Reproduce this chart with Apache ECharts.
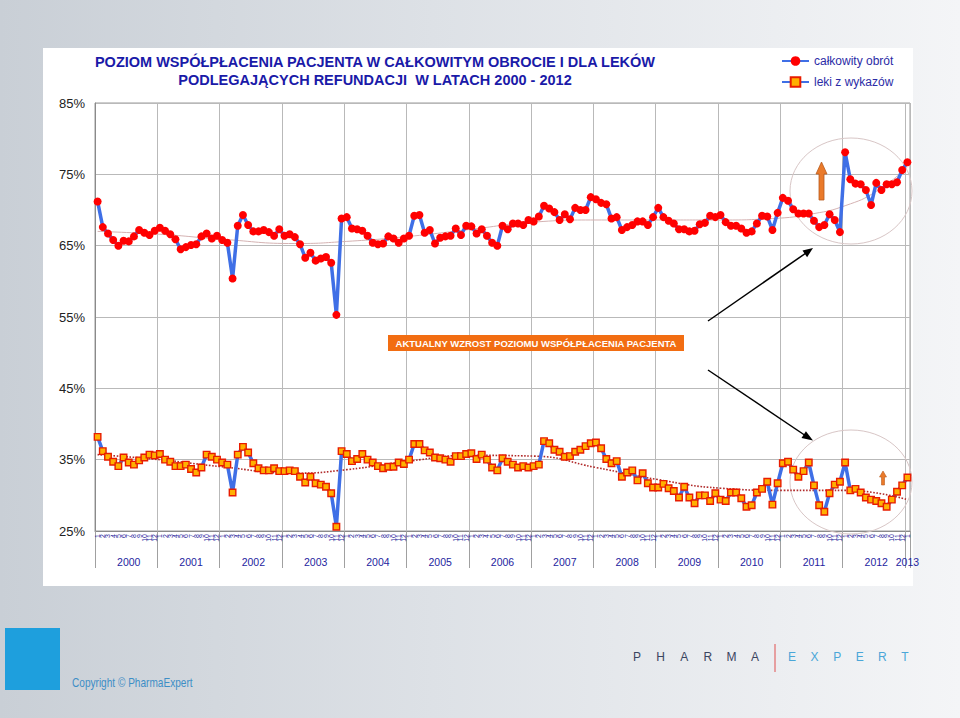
<!DOCTYPE html>
<html><head><meta charset="utf-8">
<script src="https://cdn.jsdelivr.net/npm/echarts@6/dist/echarts.min.js"></script>
<style>
html,body{margin:0;padding:0;width:960px;height:718px;overflow:hidden;}
body{background:linear-gradient(to right,#c9cfd6 0%,#dde1e6 45%,#f4f5f7 100%);position:relative;}
#panel{position:absolute;left:43px;top:48px;width:870px;height:538px;background:#fff;}
#chart{position:absolute;left:0;top:0;width:960px;height:718px;}
</style></head>
<body><div id="panel"></div><div id="chart"></div>
<script>
// ---- data ----
const monthLabels = ['1','2','3','4','5','6','7','8','9','10','11','12'];
const yearLabels = ['2000','2001','2002','2003','2004','2005','2006','2007','2008','2009','2010','2011','2012','2013'];
const seriesNames = ['całkowity obrót','leki z wykazów'];
// całkowity obrót (Jan 2000 - Jan 2013), %
const totalTurnover = [
 71.2,67.6,66.7,65.8,65.0,65.7,65.6,66.3,67.2,66.8,66.5,67.1,
 67.5,67.1,66.6,65.9,64.5,64.8,65.1,65.2,66.3,66.7,66.0,66.4,
 65.8,65.4,60.4,67.8,69.3,67.9,67.0,67.0,67.2,66.9,66.4,67.3,
 66.4,66.6,66.2,65.2,63.3,64.0,62.9,63.2,63.4,62.6,55.3,68.8,
 69.0,67.4,67.3,67.1,66.4,65.4,65.2,65.3,66.3,66.0,65.4,66.0,
 66.4,69.2,69.3,66.8,67.2,65.3,66.1,66.3,66.4,67.4,66.5,67.8,
 67.7,66.7,67.3,66.4,65.4,65.0,67.8,67.3,68.1,68.1,67.9,68.6,
 68.4,69.1,70.6,70.2,69.7,68.6,69.4,68.7,70.3,70.0,70.0,71.8,
 71.5,71.0,70.8,68.8,69.0,67.2,67.6,67.9,68.4,68.4,67.9,69.0,
 70.3,69.0,68.5,68.1,67.3,67.3,67.0,67.1,68.0,68.2,69.2,69.0,
 69.3,68.3,67.8,67.8,67.4,66.8,67.0,68.1,69.2,69.1,67.2,69.6,
 71.7,71.3,70.1,69.5,69.5,69.5,68.5,67.6,67.9,69.4,68.6,66.9,
 78.1,74.3,73.7,73.6,72.8,70.7,73.8,72.8,73.6,73.6,73.9,75.6,
 76.7
];
// leki z wykazów, %
const listedDrugs = [
 38.2,36.2,35.4,34.7,34.1,35.3,34.6,34.3,34.9,35.3,35.7,35.6,
 35.8,35.0,34.7,34.1,34.1,34.3,33.7,33.2,33.9,35.7,35.4,35.0,
 34.6,34.3,30.4,35.7,36.8,36.0,34.5,33.8,33.5,33.5,33.8,33.4,
 33.4,33.5,33.4,32.6,31.8,32.6,31.7,31.5,31.2,30.3,25.6,36.2,
 35.8,34.8,35.1,35.8,35.0,34.6,34.1,33.8,34.0,34.0,34.6,34.4,
 35.0,37.2,37.2,36.3,36.0,35.3,35.2,35.0,34.7,35.5,35.5,35.8,
 35.9,35.1,35.7,35.0,33.9,33.5,35.2,34.7,34.3,33.9,34.1,33.9,
 34.1,34.3,37.6,37.3,36.4,36.1,35.4,35.5,36.1,36.4,36.9,37.3,
 37.4,36.6,35.1,34.5,34.8,32.6,33.2,33.5,32.1,33.1,31.7,31.1,
 31.1,31.6,31.0,30.6,29.7,31.2,29.7,28.9,30.0,30.0,29.2,30.3,
 29.4,29.2,30.4,30.4,29.6,28.4,28.6,30.4,30.9,31.9,28.7,31.7,
 34.5,34.7,33.6,32.6,33.4,34.6,31.4,28.6,27.7,30.3,31.5,31.9,
 34.6,30.7,30.9,30.4,29.7,29.4,29.2,28.9,28.4,29.4,30.5,31.4,
 32.5
];
// trend lines: [month index, value] read at knots
const trendTotal = [[0,67.0],[12,66.6],[24,65.9],[38,65.3],[48,65.6],[60,66.3],[72,67.3],[84,68.3],[96,68.6],[108,68.6],[120,68.6],[130,68.8],[138,69.5],[144,70.6],[150,72.6],[156,76.0]];
const trendListed = [[0,35.7],[12,35.0],[24,34.0],[38,33.1],[48,33.6],[60,34.8],[72,35.6],[84,35.5],[96,33.9],[108,32.2],[120,31.0],[132,30.7],[144,30.7],[156,29.4]];
const yTicks = {min:25, max:85, step:10};
const titleText = 'POZIOM WSPÓŁPŁACENIA PACJENTA W CAŁKOWITYM OBROCIE I DLA LEKÓW\nPODLEGAJĄCYCH REFUNDACJI  W LATACH 2000 - 2012';
const noteText = 'AKTUALNY WZROST POZIOMU WSPÓŁPŁACENIA PACJENTA';

// ---- build categories ----
const n = totalTurnover.length;
const monthCats = [], yearCats = [];
for (let i = 0; i < n; i++) { monthCats.push(monthLabels[i % 12]); yearCats.push(yearLabels[Math.floor(i / 12)]); }

const FONT = 'Liberation Sans, Arial, sans-serif';
const chart = echarts.init(document.getElementById('chart'), null, {renderer:'svg', width:960, height:718});

const graphics = [];
// ellipses
graphics.push({type:'ellipse', shape:{cx:851, cy:191, rx:61, ry:53}, style:{fill:'none', stroke:'#d8c6c6', lineWidth:1}, z:1});
graphics.push({type:'ellipse', shape:{cx:851, cy:482, rx:61, ry:52}, style:{fill:'none', stroke:'#d8c6c6', lineWidth:1}, z:1});
// black arrows
graphics.push({type:'line', shape:{x1:708, y1:321, x2:806, y2:253}, style:{stroke:'#000', lineWidth:1.5}, z:50});
graphics.push({type:'polygon', shape:{points:[[813,248],[807.1,257.2],[802.5,250.6]]}, style:{fill:'#000'}, z:50});
graphics.push({type:'line', shape:{x1:708, y1:370, x2:806, y2:436}, style:{stroke:'#000', lineWidth:1.5}, z:50});
graphics.push({type:'polygon', shape:{points:[[813,440.5],[801.5,437.9],[805.9,431.3]]}, style:{fill:'#000'}, z:50});
// orange arrows
graphics.push({type:'polygon', shape:{points:[[821.5,162],[827,174],[824,174],[824,200],[819,200],[819,174],[816,174]]}, style:{fill:'#ea7a2a', stroke:'#b85c1e', lineWidth:0.8}, z:50});
graphics.push({type:'polygon', shape:{points:[[883,471],[886.5,477],[884.5,477],[884.5,485],[881.5,485],[881.5,477],[879.5,477]]}, style:{fill:'#ea7a2a', stroke:'#b85c1e', lineWidth:0.6}, z:50});
// note box
graphics.push({type:'rect', shape:{x:388, y:335, width:296, height:16}, style:{fill:'#f26d12'}, z:50});
graphics.push({type:'text', x:536, y:343.5, style:{text:noteText, fill:'#fff', font:'bold 9.5px '+FONT, textAlign:'center', textVerticalAlign:'middle'}, z:51});
// footer
graphics.push({type:'rect', shape:{x:5, y:628, width:55, height:62}, style:{fill:'#1e9fdd'}, z:1});
graphics.push({type:'text', x:72, y:683, scaleX:0.84, style:{text:'Copyright © PharmaExpert', fill:'#3d8ec6', font:'12px '+FONT, textAlign:'left', textVerticalAlign:'middle'}, z:1});
const w1 = 'PHARMA', w2 = 'EXPERT';
for (let k = 0; k < w1.length; k++) graphics.push({type:'text', x:637 + k*23.6, y:657, style:{text:w1[k], fill:'#3a4560', font:'12px '+FONT, textAlign:'center', textVerticalAlign:'middle'}, z:1});
graphics.push({type:'line', shape:{x1:775, y1:644, x2:775, y2:672}, style:{stroke:'#e05050', lineWidth:1}, z:1});
for (let k = 0; k < w2.length; k++) graphics.push({type:'text', x:792 + k*22.6, y:657, style:{text:w2[k], fill:'#4aa6d8', font:'12px '+FONT, textAlign:'center', textVerticalAlign:'middle'}, z:1});

const option = {
  animation:false,
  backgroundColor:'transparent',
  textStyle:{fontFamily:FONT},
  title:{text:titleText, left:370, top:48, textAlign:'center',
    textStyle:{fontSize:14.5, fontWeight:'bold', color:'#1a1aa8', lineHeight:18, fontFamily:FONT}},
  legend:{data:seriesNames, orient:'vertical', left:776, top:50, itemWidth:27, itemHeight:12, itemGap:9,
    textStyle:{fontSize:12, color:'#2b2ba6', fontFamily:FONT}},
  grid:{left:95, right:50, top:103, bottom:187, show:true, borderColor:'#9a9a9a', borderWidth:1, containLabel:false},
  xAxis:[
    {type:'category', data:monthCats, boundaryGap:true,
     axisLine:{lineStyle:{color:'#8a8a8a'}},
     axisTick:{interval:0, length:5, lineStyle:{color:'#8a8a8a'}},
     axisLabel:{interval:0, rotate:90, fontSize:7, color:'#1c1c9a', margin:3, fontFamily:FONT},
     splitLine:{show:true, interval:(i)=> i % 12 === 0, lineStyle:{color:'#b9b9b9'}}},
    {type:'category', data:yearCats, boundaryGap:true, position:'bottom',
     axisLine:{show:false},
     axisTick:{show:true, interval:(i)=> i % 12 === 0, length:37, lineStyle:{color:'#a0a0a0'}},
     axisLabel:{interval:(i)=> i % 12 === 6 || i === n - 1, fontSize:10.5, color:'#2424a0', margin:25, fontFamily:FONT},
     splitLine:{show:false}}
  ],
  yAxis:{type:'value', min:yTicks.min, max:yTicks.max, interval:yTicks.step,
    axisLabel:{formatter:'{value}%', fontSize:13, color:'#222', margin:10, fontFamily:FONT},
    axisLine:{show:true, lineStyle:{color:'#8a8a8a'}}, axisTick:{show:false},
    splitLine:{lineStyle:{color:'#b9b9b9'}}},
  series:[
    {name:'trend1', type:'line', data:trendTotal, smooth:true, symbol:'none', silent:true, z:2,
     lineStyle:{color:'#d4b2b2', width:1}},
    {name:'trend2', type:'line', data:trendListed, smooth:true, symbol:'none', silent:true, z:2,
     lineStyle:{color:'#b02a2a', width:1.6, type:'dotted'}},
    {name:seriesNames[0], type:'line', data:totalTurnover, symbol:'circle', symbolSize:8, z:4,
     lineStyle:{color:'#3f6fe6', width:3.5}, itemStyle:{color:'#ff0000'}},
    {name:seriesNames[1], type:'line', data:listedDrugs, symbol:'rect', symbolSize:6.5, z:4,
     lineStyle:{color:'#3f6fe6', width:3.5}, itemStyle:{color:'#ffb000', borderColor:'#e81c00', borderWidth:1.4}}
  ],
  graphic:graphics
};
chart.setOption(option);
</script>
</body></html>
